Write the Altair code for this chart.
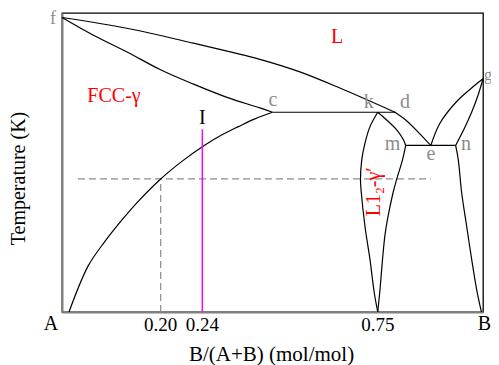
import altair as alt
import pandas as pd

FONT = "Liberation Serif"
GRAY = "#8c8c8c"

# ---- phase boundaries: x = B/(A+B) on the schematic axis (0..1), t = temperature (schematic 0..1)
liquidus_x = [0.0, 0.154, 0.312, 0.470, 0.565, 0.660, 0.791]
liquidus_t = [0.985, 0.949, 0.899, 0.845, 0.803, 0.749, 0.668]

solidus_x = [0.0, 0.0736, 0.1544, 0.2328, 0.3112, 0.3919, 0.4703, 0.5]
solidus_t = [0.985, 0.9265, 0.8697, 0.8112, 0.7628, 0.7177, 0.6826, 0.668]

tie_cd_x = [0.5, 0.791]
tie_cd_t = [0.668, 0.668]

d_e_x = [0.791, 0.819, 0.850, 0.876]
d_e_t = [0.668, 0.639, 0.596, 0.557]

e_g_x = [0.876, 0.898, 0.9375, 0.977, 1.0]
e_g_t = [0.557, 0.632, 0.704, 0.754, 0.78]

n_g_x = [0.935, 0.955, 0.973, 0.988, 1.0]
n_g_t = [0.557, 0.612, 0.668, 0.724, 0.78]

tie_mn_x = [0.8164, 0.935]
tie_mn_t = [0.557, 0.557]

k_m_x = [0.75, 0.7665, 0.795, 0.811, 0.8164]
k_m_t = [0.668, 0.648, 0.609, 0.576, 0.557]

l12_left_x = [0.75, 0.7316, 0.7197, 0.712, 0.709, 0.711, 0.7197, 0.7316, 0.7418, 0.75]
l12_left_t = [0.668, 0.620, 0.565, 0.509, 0.442, 0.398, 0.286, 0.175, 0.0635, 0.0]

l12_right_x = [0.8164, 0.8088, 0.7945, 0.7862, 0.7743, 0.7672, 0.7613, 0.7553, 0.75]
l12_right_t = [0.557, 0.509, 0.442, 0.398, 0.319, 0.258, 0.175, 0.0745, 0.0]

right_solvus_x = [0.935, 0.9413, 0.9494, 0.9613, 0.9732, 0.9865, 0.9964]
right_solvus_t = [0.557, 0.509, 0.398, 0.286, 0.175, 0.0635, 0.0]

left_solvus_x = [0.0166, 0.0625, 0.102, 0.142, 0.181, 0.2344, 0.284, 0.3333, 0.379, 0.419, 0.458, 0.5]
left_solvus_t = [0.0, 0.155, 0.236, 0.307, 0.370, 0.445, 0.503, 0.553, 0.592, 0.620, 0.646, 0.668]

# ---- construction lines
dash_h_x = [0.038, 0.876]
dash_h_t = [0.445, 0.445]
dash_v_x = [0.2344, 0.2344]
dash_v_t = [0.0, 0.445]
alloy_x = [0.3333, 0.3333]
alloy_t = [0.0, 0.611]

# ---- axis tick labels (schematic positions)
tick_pos = [0.2344, 0.3333, 0.75]
tick_labels = ["0.20", "0.24", "0.75"]
tick_t = [-0.0625, -0.0625, -0.0625]

# ---- annotations
point_names = ["c", "k", "d", "m", "e", "n"]
point_x = [0.5012, 0.7285, 0.8147, 0.785, 0.8765, 0.9596]
point_t = [0.6893, 0.6816, 0.6816, 0.5419, 0.5089, 0.5419]

f_name = ["f"]
f_x = [-0.0214]
f_t = [0.9633]

g_name = ["g"]
g_x = [1.0024]
g_t = [0.7756]

end_names = ["A", "I"]
end_x = [-0.0261, 0.3333]
end_t = [-0.0591, 0.6291]

b_name = ["B"]
b_x = [1.019]
b_t = [-0.0591]

phase_names = ["L", "FCC-\u03b3"]
phase_x = [0.6532, 0.1235]
phase_t = [0.9008, 0.7026]

rot_name = ["L1\u2082-\u03b3\u2032"]
rot_x = [0.7553]
rot_t = [0.402]


def curve_df(pairs):
    rows = []
    for name, xs, ts in pairs:
        for i, (a, b) in enumerate(zip(xs, ts)):
            rows.append({"curve": name, "i": i, "x": a, "y": b})
    return pd.DataFrame(rows)


def label_df(xs, ts, names):
    return pd.DataFrame({"x": xs, "y": ts, "label": names})


boundaries = curve_df([
    ("liquidus", liquidus_x, liquidus_t),
    ("solidus", solidus_x, solidus_t),
    ("cd", tie_cd_x, tie_cd_t),
    ("de", d_e_x, d_e_t),
    ("eg", e_g_x, e_g_t),
    ("ng", n_g_x, n_g_t),
    ("mn", tie_mn_x, tie_mn_t),
    ("km", k_m_x, k_m_t),
    ("l12l", l12_left_x, l12_left_t),
    ("l12r", l12_right_x, l12_right_t),
    ("rs", right_solvus_x, right_solvus_t),
    ("ls", left_solvus_x, left_solvus_t),
])
dashes = curve_df([("h", dash_h_x, dash_h_t), ("v", dash_v_x, dash_v_t)])
alloy = curve_df([("I", alloy_x, alloy_t)])

X = alt.X("x:Q", scale=alt.Scale(domain=[0, 1], nice=False, zero=False),
          axis=alt.Axis(title="B/(A+B) (mol/mol)", labels=False, ticks=False, grid=False,
                        domainColor="#808080", domainWidth=2,
                        titleFont=FONT, titleFontSize=21, titleFontWeight="normal",
                        titleColor="black", titleBaseline="alphabetic",
                        titleAlign="center", titleX=209, titleY=48))
Y = alt.Y("y:Q", scale=alt.Scale(domain=[0, 1], nice=False, zero=False),
          axis=alt.Axis(title="Temperature (K)", labels=False, ticks=False, grid=False,
                        domainColor="#808080", domainWidth=2,
                        titleFont=FONT, titleFontSize=20, titleFontWeight="normal",
                        titleColor="black", titleBaseline="alphabetic", titleAngle=270,
                        titleAlign="center", titleX=-38, titleY=165))

lines = alt.Chart(boundaries).mark_line(color="black", strokeWidth=1.2,
                                        interpolate="catmull-rom").encode(
    x=X, y=Y, detail="curve:N", order="i:Q")
dash_layer = alt.Chart(dashes).mark_line(color="#8c8c8c", strokeWidth=1.2,
                                         strokeDash=[7, 4]).encode(
    x=X, y=Y, detail="curve:N", order="i:Q")
alloy_layer = alt.Chart(alloy).mark_line(color="#ff00ff", strokeWidth=1.5).encode(
    x=X, y=Y, order="i:Q")


def text_layer(df, size, color, align="center", **kw):
    return alt.Chart(df).mark_text(font=FONT, fontSize=size, color=color,
                                   baseline="alphabetic", align=align, **kw).encode(
        x=X, y=Y, text="label:N")


layers = [
    dash_layer, lines, alloy_layer,
    text_layer(label_df(tick_pos, tick_t, tick_labels), 19, "black"),
    text_layer(label_df(point_x, point_t, point_names), 20, GRAY),
    text_layer(label_df(f_x, f_t, f_name), 18, GRAY),
    text_layer(label_df(g_x, g_t, g_name), 16, GRAY, align="left"),
    text_layer(label_df(end_x, end_t, end_names), 20, "black"),
    text_layer(label_df(b_x, b_t, b_name), 20, "black", align="right"),
    text_layer(label_df(phase_x, phase_t, phase_names), 20, "#ff0000"),
    text_layer(label_df(rot_x, rot_t, rot_name), 20, "#ff0000", angle=270),
]

chart = alt.layer(*layers).properties(
    width=421, height=299,
    autosize=alt.AutoSizeParams(type="none"),
    padding={"left": 54, "top": 5, "right": 8, "bottom": 53},
).configure_view(stroke="black", strokeWidth=1.3)

chart.save("out.html", embed_options={"renderer": "svg", "actions": False})
